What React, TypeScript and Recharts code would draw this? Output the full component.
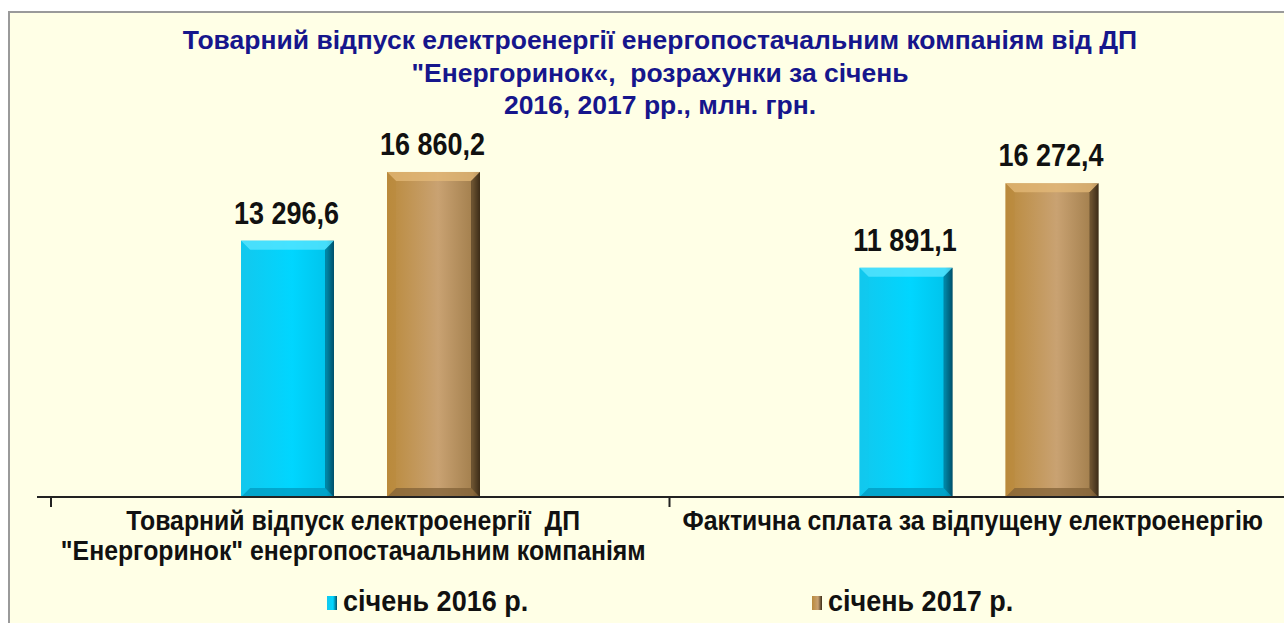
import React from 'react';
import { BarChart, Bar, XAxis, YAxis, LabelList } from 'recharts';

const categories = [
  ['Товарний відпуск електроенергії  ДП', '"Енергоринок" енергопостачальним компаніям'],
  ['Фактична сплата за відпущену електроенергію'],
];
const jan2016 = [13296.6, 11891.1];
const jan2017 = [16860.2, 16272.4];
const seriesNames = ['січень 2016 р.', 'січень 2017 р.'];
const titleLines = [
  'Товарний відпуск електроенергії енергопостачальним компаніям від ДП',
  '"Енергоринок«,  розрахунки за січень',
  '2016, 2017 рр., млн. грн.',
];

const data = categories.map((lines, i) => ({
  name: lines.join(' '),
  lines,
  y2016: jan2016[i],
  y2017: jan2017[i],
}));

const sans = '"Liberation Sans", Arial, sans-serif';
const bg = '#FFFFE6';

const palettes = {
  cyan: { left: '#12C8EE', mid: '#00D6FF', right: '#00C4EC', edge: '#00506A', top: '#5CE6FF', bottom: '#0096BC' },
  brown: { left: '#BA8A3C', mid: '#C9A272', right: '#A4804E', edge: '#3C2C18', top: '#E4B978', bottom: '#7E5E34' },
};

function bevelBar(p: any, key: 'cyan' | 'brown') {
  const { x, y, width, height } = p;
  if (!height || height <= 0) return null;
  const c = palettes[key];
  const b = 9;
  const id = `grad-${key}-${Math.round(x)}`;
  return (
    <g>
      <defs>
        <linearGradient id={id} x1="0" y1="0" x2="1" y2="0">
          <stop offset="0%" stopColor={c.left} />
          <stop offset="55%" stopColor={c.mid} />
          <stop offset="92%" stopColor={c.right} />
          <stop offset="100%" stopColor={c.edge} />
        </linearGradient>
      </defs>
      <rect x={x} y={y} width={width} height={height} fill={`url(#${id})`} />
      <polygon
        points={`${x},${y} ${x + width},${y} ${x + width - b},${y + b} ${x + b},${y + b}`}
        fill={c.top}
        opacity={0.75}
      />
      <polygon
        points={`${x},${y + height} ${x + width},${y + height} ${x + width - b},${y + height - b} ${x + b},${y + height - b}`}
        fill={c.bottom}
        opacity={0.7}
      />
      <polygon
        points={`${x + width},${y} ${x + width},${y + height} ${x + width - b},${y + height - b} ${x + width - b},${y + b}`}
        fill={c.edge}
        opacity={0.55}
      />
      <polygon
        points={`${x},${y} ${x},${y + height} ${x + b},${y + height - b} ${x + b},${y + b}`}
        fill={c.left}
        opacity={0.5}
      />
    </g>
  );
}

const fmt = (v: number) => {
  const [i, d] = v.toFixed(1).split('.');
  return i.replace(/\B(?=(\d{3})+(?!\d))/g, ' ') + ',' + d;
};

// narrow bold text: Liberation Sans squeezed horizontally
function NarrowText({ x, y, size, sx, children }: any) {
  return (
    <g transform={`translate(${x},${y}) scale(${sx},1)`}>
      <text
        x={0}
        y={0}
        textAnchor="middle"
        fontFamily={sans}
        fontWeight="bold"
        fontSize={size}
        fill="#111"
        style={{ whiteSpace: 'pre' }}
      >
        {children}
      </text>
    </g>
  );
}

function CategoryTick(props: any) {
  const { x, y, payload, index } = props;
  const half = payload?.offset ?? 309;
  const item = data[index];
  const shift = index === 0 ? -7 : -6;
  return (
    <g>
      <line x1={x - half} y1={y - 8} x2={x - half} y2={y + 2} stroke="#222" strokeWidth={2} />
      {item.lines.map((l: string, k: number) => (
        <NarrowText key={k} x={x + shift} y={y + 25 + k * 30} size={27} sx={0.92}>
          {l}
        </NarrowText>
      ))}
    </g>
  );
}

function ValueLabel(props: any) {
  const { x, y, width, value } = props;
  return (
    <NarrowText x={x + width / 2 - 1} y={y - 17} size={31} sx={0.87}>
      {fmt(Number(value))}
    </NarrowText>
  );
}

function LegendRow() {
  const swatch = ['cyan', 'brown'] as const;
  return (
    <div style={{ position: 'absolute', left: 0, top: 584, width: 1284, height: 40 }}>
      {seriesNames.map((n, i) => {
        const c = palettes[swatch[i]];
        return (
          <div
            key={n}
            style={{
              position: 'absolute',
              left: 327 + i * 485,
              top: 0,
              display: 'flex',
              alignItems: 'center',
              whiteSpace: 'nowrap',
            }}
          >
            <span
              style={{
                display: 'inline-block',
                width: 10,
                height: 14,
                marginRight: 6,
                marginTop: 3,
                background: `linear-gradient(90deg, ${c.left}, ${c.mid} 60%, ${c.edge})`,
              }}
            />
            <span
              style={{
                display: 'inline-block',
                fontFamily: sans,
                fontWeight: 'bold',
                fontSize: 30,
                color: '#111',
                transform: 'scaleX(0.9)',
                transformOrigin: 'left center',
              }}
            >
              {n}
            </span>
          </div>
        );
      })}
    </div>
  );
}

export default function App() {
  return (
    <div
      style={{
        position: 'fixed',
        left: 0,
        top: 0,
        width: 1284,
        height: 623,
        overflow: 'hidden',
        background: '#fff',
      }}
    >
      <div
        style={{
          position: 'absolute',
          left: 8,
          top: 11,
          width: 1320,
          height: 660,
          background: bg,
          borderTop: '2px solid #9a9a9a',
          borderLeft: '2px solid #9a9a9a',
        }}
      />
      <div
        style={{
          position: 'absolute',
          left: 0,
          top: 24,
          width: 1320,
          textAlign: 'center',
          fontFamily: sans,
          fontWeight: 'bold',
          fontSize: 26.5,
          lineHeight: '32.5px',
          color: '#16168C',
        }}
      >
        {titleLines.map((t) => (
          <div key={t} style={{ whiteSpace: 'pre' }}>
            {t}
          </div>
        ))}
      </div>
      <div style={{ position: 'absolute', left: 0, top: 0 }}>
        <BarChart
          width={1320}
          height={623}
          data={data}
          margin={{ top: 150, left: 37, right: 32, bottom: 0 }}
          barSize={93}
          barGap={53}
        >
          <XAxis
            dataKey="name"
            padding={{ left: 14, right: 0 }}
            axisLine={{ stroke: '#222', strokeWidth: 2 }}
            tickLine={false}
            tick={<CategoryTick />}
            interval={0}
            height={126}
          />
          <YAxis hide domain={[0, 18000]} />
          <Bar
            dataKey="y2016"
            name={seriesNames[0]}
            isAnimationActive={false}
            shape={(p: any) => bevelBar(p, 'cyan')}
          >
            <LabelList dataKey="y2016" content={<ValueLabel />} />
          </Bar>
          <Bar
            dataKey="y2017"
            name={seriesNames[1]}
            isAnimationActive={false}
            shape={(p: any) => bevelBar(p, 'brown')}
          >
            <LabelList dataKey="y2017" content={<ValueLabel />} />
          </Bar>
        </BarChart>
      </div>
      <LegendRow />
    </div>
  );
}
